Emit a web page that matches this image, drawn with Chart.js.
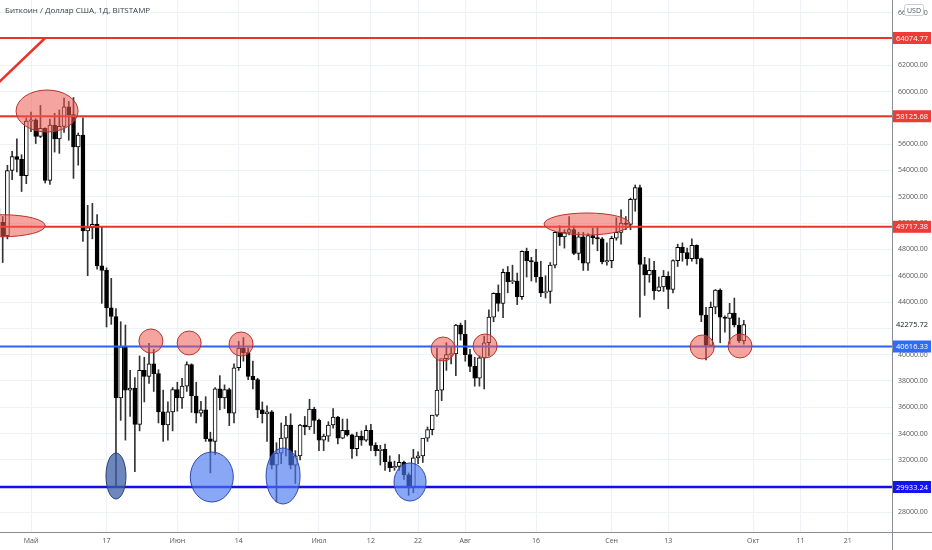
<!DOCTYPE html>
<html>
<head>
<meta charset="utf-8">
<script src="https://cdn.jsdelivr.net/npm/chart.js@4.4.1/dist/chart.umd.min.js"></script>
<style>
html, body { margin: 0; padding: 0; background: #fff; }
#wrap { position: relative; width: 932px; height: 550px; }
</style>
</head>
<body>
<div id="wrap"><canvas id="chart" width="932" height="550"></canvas></div>
<script>
// daily candles from 24 Apr 2021 to 29 Sep 2021 (BITSTAMP)
const firstDay = -7; // 24 Apr = 7 days before 1 May (1 May = day 0)

const opens = [
    51150, 50050, 49050, 54000, 55050, 54850, 53600,
    57750, 57850, 56600, 57200, 53250, 57450, 56400, 57350, 58850, 58250, 55800, 56700, 49400, 49650, 49900, 46750,
    46400, 43550, 42900, 36700, 40600, 37300, 37450, 34700, 38800, 38350, 39300, 38550, 35650, 34650, 35650,
    37350, 36700, 37600, 39250, 36850, 35550, 35800, 33600, 33400, 37400, 36700, 37350, 35550, 39000, 40500,
    40150, 38350, 38100, 35800, 35500, 35650, 31600, 32500, 33650, 34650, 31600, 32300, 34650, 34500, 35850,
    35000, 33500, 33800, 34650, 35250, 33650, 34250, 33900, 32850, 33800, 33500, 34250, 33100, 32700, 32800,
    31850, 31400, 31500, 31800, 30850, 29900, 32150, 32300, 33650, 34300, 35400, 37300, 39700, 40000, 40050, 42250,
    41550, 40000, 39100, 38200, 39750, 40900, 42850, 44650, 43900, 46250, 45550, 45600, 44400, 47850, 47150,
    47050, 45900, 44700, 44800, 46800, 49300, 48950, 49300, 49500, 47700, 48950, 46950, 49050, 48900, 48800, 47050,
    47150, 48850, 49300, 50000, 49900, 51800, 52700, 46850, 46050, 46400, 44850, 45150, 45950, 44950, 47150,
    48150, 47750, 47300, 48300, 47300, 43000, 40700, 43600, 44900, 42850, 42750, 43150, 42250, 41050
];
const highs = [
    51200, 50500, 54400, 55450, 56400, 55200, 58000,
    58450, 57950, 58950, 57250, 57900, 58350, 58600, 59500, 59250, 59550, 56850, 58000, 51350, 51500, 50650, 49700,
    46600, 45800, 43500, 42500, 42250, 38800, 38250, 39900, 39800, 40850, 40400, 38850, 37300, 36400, 37500,
    37900, 38200, 39450, 39300, 37900, 36450, 36800, 34100, 37500, 38400, 37700, 37450, 39300, 41000, 41300,
    40500, 39500, 38200, 36400, 36100, 35750, 33300, 34800, 35300, 35500, 32700, 34700, 35300, 36600, 36000,
    35100, 33950, 34900, 35900, 35300, 35100, 35100, 33950, 34100, 34200, 34600, 34700, 33300, 33100, 33200,
    32300, 31900, 32400, 31900, 31000, 32800, 32600, 33600, 34500, 35400, 40500, 39500, 40900, 40600, 42300, 42400,
    42600, 40400, 39800, 39900, 41400, 43400, 44700, 45300, 46500, 46700, 46800, 46200, 47900, 48100, 47400,
    48000, 47100, 46000, 47000, 49350, 49800, 49500, 50500, 49800, 49300, 49300, 49200, 49600, 49700, 48900,
    48500, 49000, 50400, 51000, 50500, 51900, 52900, 52900, 47400, 47300, 47100, 45900, 46400, 46300, 47200,
    48400, 48500, 48100, 48800, 48350, 47350, 43600, 44000, 44950, 45000, 42950, 43900, 44300, 42800, 42600
];
const lows = [
    48800, 47000, 48800, 53300, 53900, 52400, 53000,
    56950, 56050, 56500, 53050, 52950, 55400, 55300, 56900, 56300, 53400, 54400, 48600, 46000, 48800, 46500, 43900,
    42100, 42300, 30000, 35000, 33500, 35300, 31100, 34200, 36400, 37800, 37200, 34800, 33400, 33500, 34200,
    35700, 35900, 37200, 35600, 34800, 35300, 33400, 31000, 32400, 35800, 35900, 34600, 34800, 38800, 39500,
    38100, 37400, 35200, 34800, 33400, 31300, 28800, 31700, 32300, 31300, 30200, 32000, 33900, 34300, 34000,
    32700, 32700, 33400, 34400, 33200, 33600, 33800, 32100, 32300, 33100, 33400, 32700, 32300, 31600, 31200,
    31100, 31200, 31200, 30500, 29300, 29500, 31700, 31800, 33400, 33900, 35300, 36500, 38800, 39300, 38400, 41100,
    39500, 38700, 37600, 37600, 37400, 39900, 42500, 43300, 42800, 44700, 45400, 43800, 44200, 45900, 45600,
    45500, 44400, 44300, 43900, 46600, 48300, 48100, 49100, 47600, 47200, 46400, 46400, 48400, 47900, 46900,
    46800, 46600, 48700, 48400, 49500, 49500, 50900, 42850, 44500, 45500, 44200, 44800, 44800, 43500, 44700,
    46700, 47100, 46800, 47100, 46900, 42500, 39600, 40600, 43100, 40900, 41700, 40800, 42100, 40900, 40800
];
const closes = [
    50050, 49050, 54000, 55050, 54850, 53600, 57750,
    57850, 56600, 57200, 53250, 57450, 56400, 57350, 58850, 58250, 55800, 56700, 49400, 49650, 49900, 46750, 46400,
    43550, 42900, 36700, 40600, 37300, 37450, 34700, 38800, 38350, 39300, 38550, 35650, 34650, 35650, 37350,
    36700, 37600, 39250, 36850, 35550, 35800, 33600, 33400, 37400, 36700, 37350, 35550, 39000, 40500, 40150,
    38350, 38100, 35800, 35500, 35650, 31600, 32500, 33650, 34650, 31600, 32300, 34650, 34500, 35850, 35000,
    33500, 33800, 34650, 35250, 33650, 34250, 33900, 32850, 33800, 33500, 34250, 33100, 32700, 32800, 31850,
    31400, 31500, 31800, 30850, 29900, 32150, 32300, 33650, 34300, 35400, 37300, 39700, 40000, 40050, 42250, 41550,
    40000, 39100, 38200, 39750, 40900, 42850, 44650, 43900, 46250, 45550, 45600, 44400, 47850, 47150, 47050,
    45900, 44700, 44800, 46800, 49300, 48950, 49300, 49500, 47700, 48950, 46950, 49050, 48900, 48800, 47050, 47150,
    48850, 49300, 50000, 49900, 51800, 52700, 46850, 46050, 46400, 44850, 45150, 45950, 44950, 47150, 48150,
    47750, 47300, 48300, 47300, 43000, 40700, 43600, 44900, 42850, 42750, 43150, 42250, 41050, 42275.72
];

// axis ticks
const xTickDays = [0, 16, 31, 44, 61, 72, 82, 92, 107, 123, 135, 153, 163, 173];
const xTickLabels = ['Май', '17', 'Июн', '14', 'Июл', '12', '22', 'Авг', '16', 'Сен', '13', 'Окт', '11', '21'];
const yTickValues = [28000, 30000, 32000, 34000, 36000, 38000, 40000, 42000, 44000, 46000,
    48000, 50000, 52000, 54000, 56000, 58000, 60000, 62000, 64000, 66000];

// levels drawn on the chart
const redLevels = [64074.77, 58125.68, 49717.38];
const blueLevels = [40616.33, 29933.24];
const lastPrice = 42275.72;

// trend line (day, price)
const trendDays = [-9, 3];
const trendPrices = [59950, 64074.77];

// marks: centre day, centre price
const redMarkDays = [3.4, -6.1, 117.8, 25.4, 33.5, 44.5, 87.3, 96.2, 142.2, 150.2];
const redMarkPrices = [58524, 49800, 49932, 41035, 40883, 40807, 40426, 40654, 40578, 40654];
const blueMarkDays = [18.0, 38.3, 53.4, 80.3];
const bluePrices = [30770, 30693, 30770, 30314];

// pixel radii of the marks (style, not data)
const redRadii = [[31, 21], [43, 11], [43, 11], [12, 12], [12, 12], [12, 12], [12, 12], [12, 12], [12, 12], [12, 12]];
const blueRadii = [[10, 23], [21.5, 25], [17, 28], [16, 19]];

const dayOf = i => firstDay + i;
const FONT = '"Open Sans", "Noto Sans", sans-serif';

const levelDataset = (value, color, width) => ({
    type: 'line',
    data: [{ x: -20, y: value }, { x: 200, y: value }],
    borderColor: color,
    borderWidth: width,
    pointRadius: 0,
    order: 0
});

const overlayPlugin = {
    id: 'overlay',
    afterDatasetsDraw(chart) {
        const { ctx, chartArea, scales } = chart;
        const xs = scales.x, ys = scales.y;
        ctx.save();
        ctx.beginPath();
        ctx.rect(chartArea.left, chartArea.top, chartArea.right - chartArea.left, chartArea.bottom - chartArea.top);
        ctx.clip();

        const drawMark = (d, p, r, fill, stroke) => {
            ctx.beginPath();
            ctx.ellipse(xs.getPixelForValue(d), ys.getPixelForValue(p), r[0], r[1], 0, 0, Math.PI * 2);
            ctx.fillStyle = fill;
            ctx.fill();
            ctx.lineWidth = 1;
            ctx.strokeStyle = stroke;
            ctx.stroke();
        };
        redMarkDays.forEach((d, i) => drawMark(d, redMarkPrices[i], redRadii[i], 'rgba(236, 90, 80, 0.55)', '#b8332b'));
        blueMarkDays.forEach((d, i) => {
            if (i === 0) drawMark(d, bluePrices[i], blueRadii[i], 'rgba(60, 95, 165, 0.75)', '#2b3f78');
            else drawMark(d, bluePrices[i], blueRadii[i], 'rgba(75, 120, 240, 0.65)', '#2c47b0');
        });
        ctx.restore();
    },
    afterDraw(chart) {
        const { ctx, chartArea, scales } = chart;
        const ys = scales.y;
        const right = chartArea.right;
        ctx.save();

        // frame lines
        ctx.strokeStyle = '#8a8d96';
        ctx.lineWidth = 1;
        ctx.beginPath();
        ctx.moveTo(0, Math.round(chartArea.bottom) + 0.5);
        ctx.lineTo(chart.width, Math.round(chartArea.bottom) + 0.5);
        ctx.moveTo(Math.round(right) + 0.5, 0);
        ctx.lineTo(Math.round(right) + 0.5, chart.height);
        ctx.stroke();

        // price labels on the axis
        const priceLabel = (value, bg, fg) => {
            const y = ys.getPixelForValue(value);
            ctx.fillStyle = bg;
            ctx.fillRect(right + 1, y - 6, 38, 12);
            ctx.fillStyle = fg;
            ctx.font = '7.5px ' + FONT;
            ctx.textBaseline = 'middle';
            ctx.textAlign = 'left';
            ctx.fillText(value.toFixed(2), right + 4, y + 0.5);
        };
        redLevels.forEach(v => priceLabel(v, '#ef3b36', '#fff'));
        priceLabel(lastPrice, '#fff', '#131722');
        priceLabel(blueLevels[0], '#2e6bff', '#fff');
        priceLabel(blueLevels[1], '#1414f0', '#fff');

        // currency badge
        ctx.fillStyle = '#fff';
        ctx.strokeStyle = '#c9ccd4';
        ctx.beginPath();
        ctx.roundRect(right + 12.5, 4.5, 19, 11, 2);
        ctx.fill();
        ctx.stroke();
        ctx.fillStyle = '#50535e';
        ctx.font = '7px ' + FONT;
        ctx.textAlign = 'center';
        ctx.textBaseline = 'middle';
        ctx.fillText('USD', right + 22, 10.5);

        // title
        ctx.fillStyle = '#3a3d46';
        ctx.font = '8px ' + FONT;
        ctx.textAlign = 'left';
        ctx.textBaseline = 'middle';
        ctx.fillText('Биткоин / Доллар США, 1Д, BITSTAMP', 5, 11);
        ctx.restore();
    }
};

new Chart(document.getElementById('chart'), {
    type: 'bar',
    data: {
        datasets: [
            levelDataset(redLevels[0], '#e8342c', 2),
            levelDataset(redLevels[1], '#e8342c', 2),
            levelDataset(redLevels[2], '#e8342c', 2),
            levelDataset(blueLevels[0], '#2962ff', 2),
            levelDataset(blueLevels[1], '#1010e8', 2.5),
            {
                type: 'line',
                data: trendDays.map((d, i) => ({ x: d, y: trendPrices[i] })),
                borderColor: '#e8342c',
                borderWidth: 2.5,
                pointRadius: 0,
                order: 0
            },
            {
                // candle bodies
                data: opens.map((o, i) => ({ x: dayOf(i), y: [o, closes[i]] })),
                backgroundColor: c => closes[c.dataIndex] >= opens[c.dataIndex] ? '#ffffff' : '#000000',
                borderColor: '#000',
                borderWidth: 1,
                borderSkipped: false,
                barThickness: 4,
                minBarLength: 1,
                grouped: false,
                order: 1
            },
            {
                // wicks
                data: lows.map((l, i) => ({ x: dayOf(i), y: [l, highs[i]] })),
                backgroundColor: '#333',
                barThickness: 1,
                grouped: false,
                order: 2
            }
        ]
    },
    options: {
        responsive: false,
        animation: false,
        layout: { padding: 0, autoPadding: false },
        plugins: { legend: { display: false }, tooltip: { enabled: false } },
        scales: {
            x: {
                type: 'linear',
                min: -6.57,
                max: 182.4,
                offset: false,
                afterBuildTicks: s => { s.ticks = xTickDays.map(v => ({ value: v })); },
                afterFit: s => { s.height = 18; s.paddingLeft = 0; s.paddingRight = 0; },
                grid: { color: '#eef1f6', offset: false, drawTicks: false },
                border: { display: false },
                ticks: {
                    autoSkip: false,
                    maxRotation: 0,
                    padding: 5,
                    color: '#555',
                    font: { size: 7, family: FONT },
                    callback: v => xTickLabels[xTickDays.indexOf(v)]
                }
            },
            y: {
                position: 'right',
                min: 26511,
                max: 66964,
                afterBuildTicks: s => { s.ticks = yTickValues.map(v => ({ value: v })); },
                afterFit: s => { s.width = 40; s.paddingTop = 0; s.paddingBottom = 0; },
                grid: { color: '#eef1f6', drawTicks: false },
                border: { display: false },
                ticks: {
                    padding: 6,
                    color: '#555',
                    font: { size: 7, family: FONT },
                    callback: v => v.toFixed(2)
                }
            }
        }
    },
    plugins: [overlayPlugin]
});
</script>
</body>
</html>
